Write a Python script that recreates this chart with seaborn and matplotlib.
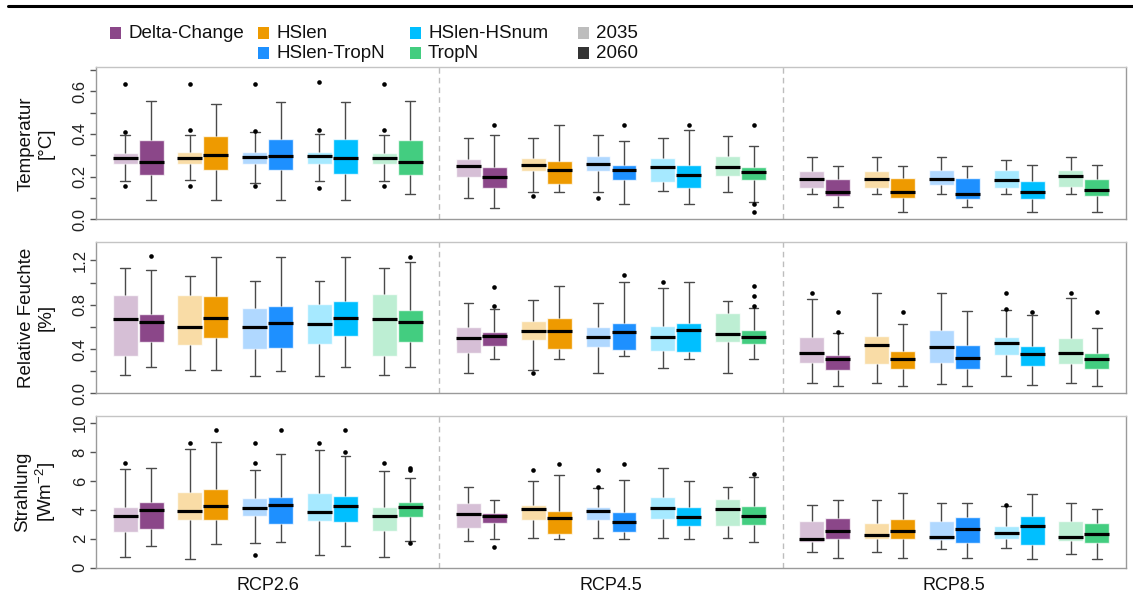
import matplotlib
matplotlib.use("Agg")
import numpy as np
import pandas as pd
import matplotlib.pyplot as plt
import seaborn as sns
from matplotlib.patches import Rectangle
from matplotlib.lines import Line2D

# ---------------------------------------------------------------- data
scenarios = ["RCP2.6", "RCP4.5", "RCP8.5"]
methods = ["Delta-Change", "HSlen", "HSlen-TropN", "HSlen-HSnum", "TropN"]
periods = ["2035", "2060"]

# Box summaries, ordered scenario -> method -> period (2035, 2060)
temp_low = [0.178, 0.092, 0.184, 0.092, 0.170, 0.092, 0.178, 0.089, 0.178, 0.119,
            0.098, 0.055, 0.127, 0.127, 0.127, 0.072, 0.131, 0.072, 0.130, 0.080,
            0.117, 0.059, 0.117, 0.033, 0.119, 0.059, 0.119, 0.034, 0.119, 0.034]
temp_q1 = [0.259, 0.206, 0.261, 0.230, 0.259, 0.230, 0.261, 0.2125, 0.259, 0.209,
           0.198, 0.148, 0.227, 0.166, 0.228, 0.184, 0.177, 0.148, 0.202, 0.183,
           0.145, 0.111, 0.145, 0.100, 0.1625, 0.095, 0.148, 0.094, 0.152, 0.108]
temp_median = [0.289, 0.267, 0.2875, 0.303, 0.292, 0.295, 0.298, 0.289, 0.289, 0.267,
               0.248, 0.197, 0.256, 0.233, 0.258, 0.230, 0.247, 0.209, 0.247, 0.223,
               0.191, 0.130, 0.1875, 0.130, 0.191, 0.120, 0.183, 0.130, 0.203, 0.139]
temp_q3 = [0.3125, 0.372, 0.314, 0.389, 0.316, 0.375, 0.316, 0.375, 0.311, 0.370,
           0.284, 0.247, 0.289, 0.275, 0.295, 0.256, 0.289, 0.253, 0.295, 0.244,
           0.227, 0.1875, 0.227, 0.195, 0.230, 0.195, 0.230, 0.180, 0.230, 0.1875]
temp_high = [0.397, 0.555, 0.397, 0.542, 0.409, 0.548, 0.402, 0.548, 0.395, 0.555,
             0.381, 0.394, 0.383, 0.441, 0.397, 0.369, 0.383, 0.417, 0.391, 0.345,
             0.292, 0.252, 0.292, 0.252, 0.292, 0.252, 0.278, 0.253, 0.292, 0.253]
temp_outliers = [[0.634, 0.408, 0.155], [], [0.634, 0.417, 0.155], [], [0.634, 0.414, 0.155],
                 [], [0.645, 0.420, 0.147], [], [0.634, 0.417, 0.155], [],
                 [], [0.441], [0.111], [], [0.098], [0.441], [], [0.442], [], [0.441, 0.072, 0.034],
                 [], [], [], [], [], [], [], [], [], []]

rh_low = [0.163, 0.238, 0.211, 0.208, 0.157, 0.202, 0.157, 0.238, 0.163, 0.241,
          0.181, 0.310, 0.214, 0.310, 0.181, 0.337, 0.226, 0.310, 0.181, 0.310,
          0.096, 0.066, 0.096, 0.066, 0.084, 0.069, 0.157, 0.072, 0.096, 0.069]
rh_q1 = [0.340, 0.461, 0.440, 0.500, 0.404, 0.407, 0.446, 0.518, 0.340, 0.461,
         0.361, 0.425, 0.479, 0.398, 0.422, 0.389, 0.386, 0.377, 0.461, 0.449,
         0.274, 0.214, 0.265, 0.220, 0.274, 0.217, 0.349, 0.247, 0.268, 0.217]
rh_median = [0.675, 0.645, 0.596, 0.681, 0.596, 0.639, 0.623, 0.684, 0.675, 0.645,
             0.503, 0.515, 0.563, 0.563, 0.509, 0.554, 0.509, 0.575, 0.536, 0.509,
             0.361, 0.307, 0.434, 0.313, 0.416, 0.319, 0.455, 0.358, 0.361, 0.307]
rh_q3 = [0.886, 0.720, 0.886, 0.880, 0.774, 0.786, 0.807, 0.834, 0.895, 0.750,
         0.599, 0.557, 0.654, 0.678, 0.596, 0.636, 0.611, 0.633, 0.726, 0.572,
         0.506, 0.343, 0.521, 0.380, 0.572, 0.434, 0.506, 0.431, 0.503, 0.361]
rh_high = [1.133, 1.111, 1.063, 1.229, 1.012, 1.229, 1.012, 1.229, 1.133, 1.187,
           0.816, 0.759, 0.843, 0.967, 0.816, 1.006, 0.952, 1.006, 0.837, 0.768,
           0.852, 0.542, 0.907, 0.623, 0.907, 0.744, 0.750, 0.708, 0.858, 0.590]
rh_outliers = [[], [1.244], [], [], [], [], [], [], [], [1.229],
               [], [0.961, 0.786], [0.184], [], [], [1.066], [1.006], [], [], [0.967, 0.880, 0.789],
               [0.907], [0.735, 0.554], [], [0.735], [], [], [0.910, 0.765], [0.735], [0.910], [0.735]]

rad_low = [0.72, 1.48, 0.62, 1.66, 1.71, 1.76, 0.88, 1.48, 0.72, 1.82,
           1.82, 2.01, 2.06, 1.99, 2.08, 1.99, 2.06, 1.99, 2.08, 1.76,
           1.06, 0.65, 1.06, 0.65, 1.27, 0.65, 1.34, 0.62, 0.92, 0.58]
rad_q1 = [2.47, 2.70, 3.28, 3.33, 3.60, 3.03, 3.21, 3.16, 2.56, 3.49,
          2.75, 3.07, 3.28, 2.31, 3.28, 2.45, 3.37, 2.91, 2.86, 2.98,
          1.76, 1.99, 1.96, 1.99, 1.89, 1.71, 2.01, 1.57, 1.82, 1.71]
rad_median = [3.60, 3.97, 3.95, 4.30, 4.11, 4.34, 3.83, 4.30, 3.60, 4.23,
              3.74, 3.58, 4.06, 3.46, 3.90, 3.19, 4.13, 3.53, 4.04, 3.60,
              2.01, 2.52, 2.26, 2.54, 2.10, 2.68, 2.42, 2.91, 2.10, 2.33]
rad_q3 = [4.20, 4.57, 5.24, 5.45, 4.85, 4.92, 5.17, 4.94, 4.20, 4.55,
          4.50, 3.76, 4.36, 3.93, 4.18, 3.86, 4.87, 4.18, 4.73, 4.27,
          3.21, 3.42, 3.07, 3.35, 3.23, 3.53, 2.89, 3.60, 3.21, 3.07]
rad_high = [6.86, 6.88, 8.20, 8.73, 6.74, 7.85, 8.15, 7.71, 6.72, 6.21,
            5.57, 4.71, 5.98, 6.42, 5.54, 6.07, 6.93, 5.98, 5.57, 6.26,
            4.34, 4.71, 4.69, 5.15, 4.46, 4.46, 4.27, 5.08, 4.46, 4.09]
rad_outliers = [[7.25], [], [8.61], [9.54], [8.61, 7.25, 0.88], [9.54], [8.61], [9.54, 8.01],
                [7.25], [6.91, 6.76, 1.73],
                [], [1.43], [6.74], [7.18], [6.74, 5.62], [7.21], [], [], [], [6.47],
                [], [], [], [], [], [], [4.35], [], [], []]

panel_labels = ["Temperatur\n[°C]", "Relative Feuchte\n[%]", "Strahlung\n[Wm$^{\\mathregular{-2}}$]"]
legend_period_labels = ["2035", "2060"]

# ---------------------------------------------------------------- style
sns.set_theme(style="ticks")
plt.rcParams["font.family"] = ["Liberation Sans", "DejaVu Sans"]
plt.rcParams["mathtext.default"] = "regular"

method_colors = {
    "Delta-Change": "#8B4789",
    "HSlen": "#EE9A00",
    "HSlen-TropN": "#1E90FF",
    "HSlen-HSnum": "#00BFFF",
    "TropN": "#43CD80",
}
LIGHT = 0.35  # strength of the 2035 tint


def tint(hex_color, strength):
    rgb = np.array(matplotlib.colors.to_rgb(hex_color))
    return tuple(1 - strength * (1 - rgb))


palette = {}
for m in methods:
    palette[f"{m} {periods[0]}"] = tint(method_colors[m], LIGHT)
    palette[f"{m} {periods[1]}"] = matplotlib.colors.to_rgb(method_colors[m])

GROUP_STEP = 5.3
HALF_GAP = 0.2


def position(g, i, j):
    return round(g * GROUP_STEP + i + (2 * j - 1) * HALF_GAP, 4)


def frames(low, q1, med, q3, high, outliers):
    rows, fl_rows = [], []
    k = 0
    for g in range(len(scenarios)):
        for i, m in enumerate(methods):
            for j, p in enumerate(periods):
                pos = position(g, i, j)
                for v in (low[k], q1[k], med[k], q3[k], high[k]):
                    rows.append({"pos": pos, "value": v, "combo": f"{m} {p}"})
                for v in outliers[k]:
                    fl_rows.append({"pos": pos, "value": v})
                k += 1
    return pd.DataFrame(rows), pd.DataFrame(fl_rows)


panels = [
    (temp_low, temp_q1, temp_median, temp_q3, temp_high, temp_outliers),
    (rh_low, rh_q1, rh_median, rh_q3, rh_high, rh_outliers),
    (rad_low, rad_q1, rad_median, rad_q3, rad_high, rad_outliers),
]
ylims = [0.7125, 1.367, 10.48]
major_ticks = [np.arange(0, 0.61, 0.2), np.arange(0, 1.21, 0.4), np.arange(0, 10.1, 2)]
minor_ticks = [np.arange(0.1, 0.71, 0.2), np.arange(0.2, 1.01, 0.4), []]
tick_fmt = ["{:.1f}", "{:.1f}", "{:.0f}"]

W, H = 1133, 593
fig = plt.figure(figsize=(W / 100, H / 100), dpi=100)
panel_px = [(67.3, 219.3), (242.0, 393.3), (416.3, 567.7)]
left_px, right_px = 96, 1126

xmin = -0.65
xmax = xmin + len(scenarios) * GROUP_STEP
axes = []
for (top, bottom) in panel_px:
    ax = fig.add_axes([left_px / W, 1 - bottom / H, (right_px - left_px) / W, (bottom - top) / H])
    axes.append(ax)

for n, (ax, stats) in enumerate(zip(axes, panels)):
    df, fl = frames(*stats)
    sns.boxplot(
        data=df, x="pos", y="value", hue="combo", palette=palette,
        native_scale=True, dodge=False, whis=(0, 100), showfliers=False,
        width=0.96, saturation=1, legend=False, ax=ax,
        linecolor="#4a4a4a", linewidth=1.0,
        boxprops=dict(edgecolor=(1, 1, 1, 0.75), linewidth=1.0),
        medianprops=dict(color="black", linewidth=2.3),
        capwidths=0.15,
    )
    if len(fl):
        sns.scatterplot(data=fl, x="pos", y="value", color="black", s=11,
                        linewidth=0, ax=ax, zorder=5)

    for g in range(1, len(scenarios)):
        ax.axvline(xmin + g * GROUP_STEP, color="#bdbdbd", lw=1.0,
                   ls=(0, (4, 3)), zorder=0)

    ax.set_xlim(xmin, xmax)
    ax.set_ylim(0, ylims[n])
    ax.set_xlabel("")
    ax.set_ylabel("")

    ax.set_yticks(major_ticks[n])
    ax.set_yticklabels([tick_fmt[n].format(t) for t in major_ticks[n]])
    ax.set_yticks(minor_ticks[n], minor=True)
    ax.tick_params(axis="y", which="both", direction="out", length=4, width=1,
                   color="#555555", labelsize=12, pad=2, labelcolor="#222222")
    for lab in ax.get_yticklabels():
        lab.set_rotation(90)
        lab.set_va("center")

    centers = [g * GROUP_STEP + (len(methods) - 1) / 2 for g in range(len(scenarios))]
    ax.set_xticks(centers)
    if n == len(axes) - 1:
        ax.set_xticklabels(scenarios, fontsize=13, color="#111111")
    else:
        ax.set_xticklabels([])
    ax.tick_params(axis="x", length=0, pad=7)

    for side, sp in ax.spines.items():
        sp.set_visible(True)
        sp.set_color("#9a9a9a")
        sp.set_linewidth(1.0)
    ax.spines["top"].set_color("#c4c4c4")

    top, bottom = panel_px[n]
    fig.text(36 / W, 1 - (top + bottom) / 2 / H, panel_labels[n], rotation=90,
             ha="center", va="center", multialignment="center", fontsize=13.5,
             color="#111111")

# ---------------------------------------------------------------- legend
legend_items = [
    (methods[0], method_colors[methods[0]], 110, 33),
    (methods[1], method_colors[methods[1]], 258, 33),
    (methods[2], method_colors[methods[2]], 258, 53),
    (methods[3], method_colors[methods[3]], 410, 33),
    (methods[4], method_colors[methods[4]], 410, 53),
    (legend_period_labels[0], "#bdbdbd", 578, 33),
    (legend_period_labels[1], "#333333", 578, 53),
]
sq = 11
for label, col, x, y in legend_items:
    fig.add_artist(Rectangle((x / W, 1 - (y + sq / 2) / H), sq / W, sq / H,
                             transform=fig.transFigure, facecolor=col,
                             edgecolor="none"))
    fig.text((x + 18) / W, 1 - y / H, label, ha="left", va="center",
             fontsize=13.5, color="#111111")

fig.add_artist(Line2D([0.007, 1.0], [1 - 6 / H, 1 - 6 / H], color="black",
                      lw=2.2, transform=fig.transFigure))

fig.savefig("out.png", dpi=100)
